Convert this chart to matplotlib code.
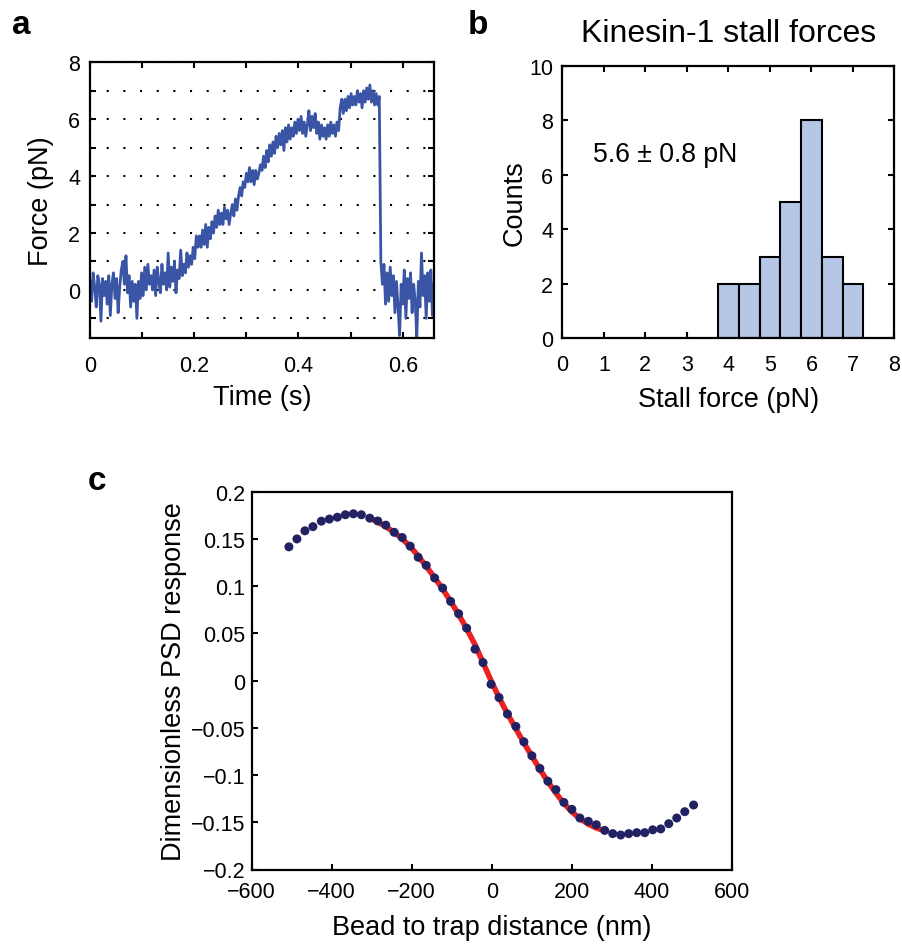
import numpy as np
import matplotlib
matplotlib.use("Agg")
import matplotlib.pyplot as plt
from matplotlib.ticker import MultipleLocator

plt.rcParams['font.family'] = ['Liberation Sans', 'DejaVu Sans']

# ---------------- Panel a data: force trace (pN), sampled every dt seconds
dt = 0.003
force = [
    0.3, -0.4, 0.6, 0.1, -0.6, 0.5, 0.2, -1.1, 0.4, -0.2,
    0.3, -0.5, 0.5, -0.9, 0.2, 0.6, -0.3, 0.4, -0.8, 0.1,
    0.7, 1.0, 0.2, 1.2, -0.1, 0.5, -0.6, 0.3, -0.4, 0.2,
    -1.0, 0.3, -0.3, 0.6, -0.2, 0.8, 0.0, 0.9, 0.2, 0.5,
    0.0, 0.7, -0.2, 0.8, 0.3, -0.1, 0.9, 0.2, 0.6, 0.0,
    1.3, 0.1, 0.8, 0.3, 1.0, -0.1, 0.7, 0.4, 1.4, 0.5,
    0.9, 0.6, 1.3, 0.8, 1.2, 0.9, 1.5, 1.1, 1.9, 1.5,
    1.9, 1.5, 2.1, 1.6, 2.3, 1.5, 2.2, 1.8, 2.4, 2.0,
    2.6, 2.2, 2.8, 2.3, 2.7, 2.3, 2.9, 2.5, 2.8, 2.3,
    2.7, 3.0, 2.6, 3.2, 2.8, 3.3, 3.6, 3.3, 3.8, 3.6,
    4.1, 3.8, 4.3, 3.8, 4.2, 3.7, 4.2, 3.9, 4.1, 4.4,
    4.2, 4.7, 4.3, 4.9, 4.5, 5.1, 4.7, 5.2, 4.8, 5.4,
    5.0, 5.5, 5.1, 5.6, 4.9, 5.7, 5.2, 5.8, 5.3, 5.7,
    5.4, 5.9, 5.5, 6.0, 5.6, 6.1, 5.5, 5.9, 5.4, 5.8,
    6.3, 5.6, 6.1, 5.7, 6.2, 5.5, 5.9, 5.3, 5.8, 5.4,
    5.7, 5.3, 5.8, 5.4, 5.9, 5.5, 5.8, 5.4, 5.9, 5.6,
    6.4, 6.7, 6.2, 6.7, 6.3, 6.8, 6.4, 6.9, 6.5, 6.8,
    6.5, 7.0, 6.6, 6.9, 6.4, 7.0, 6.6, 7.1, 6.7, 7.2,
    6.6, 7.0, 6.5, 6.9, 6.5, 6.8,
    1.0, 0.2, 0.9, -0.5,
    0.6, -0.4, 0.8, -0.2, 0.5, -0.8, 0.3, -0.6, -1.6, 0.2,
    -0.5, 0.7, -1.0, 0.4, -0.3, 0.6, -0.8, 0.2, -0.4, -1.7,
    0.3, -0.6, 1.3, -0.2, 0.5, -1.0, 0.6, -0.4, 0.7, -0.9,
    0.2,
]
time = np.arange(len(force)) * dt

# ---------------- Panel b data: stall force histogram
bin_centers = [4.0, 4.5, 5.0, 5.5, 6.0, 6.5, 7.0]
bin_counts = [2, 2, 3, 5, 8, 3, 2]
bin_width = 0.5

# ---------------- Panel c data: PSD response
distance_nm = [-507, -487, -467, -447, -426, -406, -386, -366, -346, -326,
               -305, -285, -265, -244, -224, -204, -184, -164, -143, -123,
               -103, -83, -63, -42, -22, -2, 18, 39, 60, 80,
               100, 120, 140, 160, 180, 200, 220, 241, 261, 282,
               302, 322, 342, 362, 382, 402, 422, 442, 462, 482, 504]
psd_resp = [0.1416, 0.150, 0.1586, 0.163, 0.1688, 0.171, 0.173, 0.1756, 0.1766, 0.1756,
            0.172, 0.169, 0.1646, 0.157, 0.1515, 0.1423, 0.1306, 0.122, 0.1087, 0.098,
            0.0839, 0.0708, 0.0556, 0.0333, 0.0191, -0.0039, -0.018, -0.0354, -0.0485, -0.0648,
            -0.0796, -0.093, -0.1065, -0.1154, -0.129, -0.1363, -0.1455, -0.149, -0.1526, -0.1586,
            -0.162, -0.1635, -0.162, -0.161, -0.161, -0.158, -0.157, -0.1515, -0.1455, -0.1388, -0.1317]

fit_x = [-305, -285, -265, -244, -224, -204, -184, -164, -143, -123,
         -103, -83, -63, -42, -22, -2, 18, 39, 60, 80,
         100, 120, 140, 160, 180, 200, 220, 241, 261, 282]
fit_y = [0.172, 0.168, 0.163, 0.157, 0.150, 0.142, 0.132, 0.121, 0.109, 0.097,
         0.084, 0.070, 0.055, 0.038, 0.019, 0.000, -0.018, -0.035, -0.051, -0.066,
         -0.080, -0.094, -0.107, -0.119, -0.130, -0.139, -0.146, -0.152, -0.156, -0.159]

W, H = 902, 945
fig = plt.figure(figsize=(W / 100, H / 100), dpi=100)

TICK_FS = 15.5
LABEL_FS = 19.5
SPINE_LW = 1.6


def style_axes(ax, top_right=True, xpad=8, ypad=8):
    for s in ax.spines.values():
        s.set_linewidth(SPINE_LW)
        s.set_color('black')
    ax.tick_params(which='both', direction='in', top=top_right, right=top_right,
                   labelsize=TICK_FS, width=1.5, color='black', length=4)
    ax.tick_params(axis='x', which='both', pad=xpad)
    ax.tick_params(axis='y', which='both', pad=ypad)


# ---------------- Panel a
axa = fig.add_axes([90 / W, 1 - 339.3 / H, 344 / W, 276 / H])
axa.plot(time, force, color='#3a55a6', lw=2.0)
axa.set_xlim(0, 0.66)
axa.set_ylim(-1.7, 8)
axa.xaxis.set_minor_locator(MultipleLocator(0.1))
axa.yaxis.set_minor_locator(MultipleLocator(1))
axa.set_xticks([0, 0.2, 0.4, 0.6])
axa.set_xticklabels(['0', '0.2', '0.4', '0.6'])
axa.set_yticks([0, 2, 4, 6, 8])
axa.set_yticklabels(['0', '2', '4', '6', '8'])
axa.grid(True, which='both', axis='y', color='black', linestyle=(0, (1, 7.0)), linewidth=1.5)
style_axes(axa, xpad=12, ypad=7)
axa.set_xlabel('Time (s)', fontsize=LABEL_FS, labelpad=6)
axa.set_ylabel('Force (pN)', fontsize=LABEL_FS, labelpad=10)

# ---------------- Panel b
axb = fig.add_axes([562.3 / W, 1 - 339.3 / H, 332.2 / W, 272.6 / H])
axb.bar(bin_centers, bin_counts, width=bin_width, color='#b5c6e6',
        edgecolor='black', linewidth=1.5, zorder=2)
axb.set_xlim(0, 8)
axb.set_ylim(0, 10)
axb.xaxis.set_major_locator(MultipleLocator(1))
axb.yaxis.set_major_locator(MultipleLocator(2))
style_axes(axb, xpad=11.5, ypad=6.5)
axb.set_xlabel('Stall force (pN)', fontsize=LABEL_FS, labelpad=8)
axb.set_ylabel('Counts', fontsize=LABEL_FS, labelpad=1)
axb.set_title('Kinesin-1 stall forces', fontsize=23, pad=18)
axb.text(0.74, 6.75, '5.6 ± 0.8 pN', fontsize=19.2, va='center', ha='left')

# ---------------- Panel c
axc = fig.add_axes([251.7 / W, 1 - 870.5 / H, 480.3 / W, 377.8 / H])
axc.plot(fit_x, fit_y, color='#ea2121', lw=4.0, zorder=2, solid_capstyle='butt')
axc.scatter(distance_nm, psd_resp, s=42, color='#222262', edgecolors='none', zorder=3)
axc.set_xlim(-600, 600)
axc.set_ylim(-0.2, 0.2)
style_axes(axc, top_right=False, xpad=8, ypad=4.5)
axc.set_yticks([-0.2, -0.15, -0.1, -0.05, 0, 0.05, 0.1, 0.15, 0.2])
axc.set_yticklabels(['\u22120.2', '\u22120.15', '\u22120.1', '\u22120.05', '0',
                     '0.05', '0.1', '0.15', '0.2'])
axc.set_xticks([-600, -400, -200, 0, 200, 400, 600])
axc.set_xticklabels(['\u2212600', '\u2212400', '\u2212200', '0', '200', '400', '600'])
axc.set_xlabel('Bead to trap distance (nm)', fontsize=LABEL_FS, labelpad=9)
axc.set_ylabel('Dimensionless PSD response', fontsize=LABEL_FS, labelpad=3)

# ---------------- Panel letters
fig.text(12 / W, 1 - 34 / H, 'a', fontsize=24, fontweight='bold', ha='left', va='baseline')
fig.text(468 / W, 1 - 34 / H, 'b', fontsize=24, fontweight='bold', ha='left', va='baseline')
fig.text(88 / W, 1 - 490 / H, 'c', fontsize=24, fontweight='bold', ha='left', va='baseline')

fig.savefig('out.png', dpi=100)
